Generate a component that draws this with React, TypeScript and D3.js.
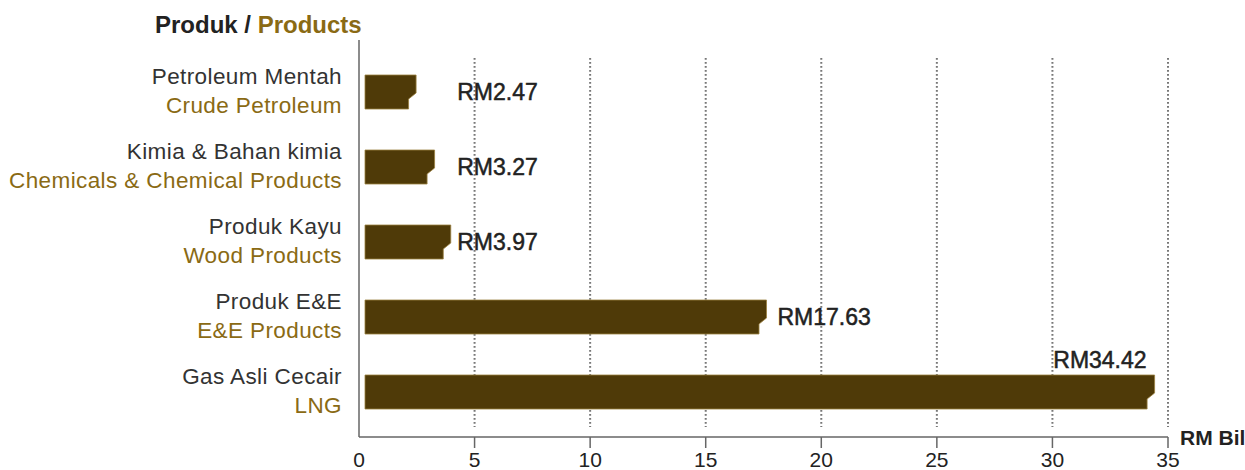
import React from "react";
import * as d3 from "d3";

const malayLabels = ["Petroleum Mentah", "Kimia & Bahan kimia", "Produk Kayu", "Produk E&E", "Gas Asli Cecair"];
const englishLabels = ["Crude Petroleum", "Chemicals & Chemical Products", "Wood Products", "E&E Products", "LNG"];
const values = [2.47, 3.27, 3.97, 17.63, 34.42];
const valueLabels = ["RM2.47", "RM3.27", "RM3.97", "RM17.63", "RM34.42"];
const xTicks = [0, 5, 10, 15, 20, 25, 30, 35];

const W = 1245;
const H = 470;
const FONT = "'Liberation Sans', Arial, Helvetica, sans-serif";
const DARK = "#333333";
const GOLD = "#8a6a14";
const BAR = "#4f3a08";

export default function App() {
  const x = d3.scaleLinear().domain([0, 35]).range([359, 1168]);
  const y = d3.scalePoint<number>().domain(d3.range(values.length)).range([92, 392]);
  const barH = 34;
  const axisY = 437;
  const x0 = x(0);

  const barPath = (v: number, cy: number) => {
    const left = x0 + 6;
    const right = x(v);
    const top = cy - barH / 2;
    const bot = cy + barH / 2;
    const notchY = top + barH * 0.53;
    const inset = 7.5;
    const p = d3.path();
    p.moveTo(left, top);
    p.lineTo(right, top);
    p.lineTo(right, notchY);
    p.lineTo(right - inset, notchY + 6);
    p.lineTo(right - inset, bot);
    p.lineTo(left, bot);
    p.closePath();
    return p.toString();
  };

  const maxIdx = values.indexOf(d3.max(values) as number);

  return (
    <svg
      width={W}
      height={H}
      style={{ position: "absolute", left: 0, top: 0, display: "block", background: "#fff" }}
      fontFamily={FONT}
    >
      {/* title */}
      <text x={155} y={33} fontSize={24} fontWeight="bold" fill="#222">
        Produk / <tspan fill={GOLD}>Products</tspan>
      </text>

      {/* grid lines */}
      {xTicks.filter((t) => t > 0).map((t) => (
        <line
          key={"g" + t}
          x1={x(t)}
          x2={x(t)}
          y1={58}
          y2={427}
          stroke="#777"
          strokeWidth={2}
          strokeDasharray="1.8,2.2"
        />
      ))}

      {/* axes */}
      <line x1={x0} x2={x0} y1={40} y2={axisY} stroke="#666" strokeWidth={1.5} />
      <line x1={x0} x2={x(35)} y1={axisY} y2={axisY} stroke="#666" strokeWidth={1.5} />
      {xTicks.map((t) => (
        <g key={"t" + t}>
          {t > 0 && <line x1={x(t)} x2={x(t)} y1={axisY} y2={axisY + 11} stroke="#666" strokeWidth={1.5} />}
          <text x={x(t)} y={467} fontSize={21} textAnchor="middle" fill="#222">
            {t}
          </text>
        </g>
      ))}
      <text x={1180} y={445} fontSize={21} fontWeight="bold" fill="#222">
        RM Bil
      </text>

      {/* bars */}
      {values.map((v, i) => {
        const cy = y(i) as number;
        return (
          <g key={"b" + i}>
            <path d={barPath(v, cy)} fill={BAR} stroke="#9a8040" strokeWidth={0.8} />
            <text x={342} y={cy - 8} fontSize={22.5} letterSpacing={0.4} textAnchor="end" fill={DARK}>
              {malayLabels[i]}
            </text>
            <text x={342} y={cy + 21} fontSize={22.5} letterSpacing={0.4} textAnchor="end" fill={GOLD}>
              {englishLabels[i]}
            </text>
            {i === maxIdx ? (
              <text
                x={x(v) - 8}
                y={cy - barH / 2 - 7}
                fontSize={23}
                textAnchor="end"
                fill="#222"
                stroke="#222"
                strokeWidth={0.5}
              >
                {valueLabels[i]}
              </text>
            ) : (
              <text
                x={v < 5 ? x(4.25) : x(v) + 11}
                y={cy + 8}
                fontSize={23}
                fill="#222"
                stroke="#222"
                strokeWidth={0.5}
              >
                {valueLabels[i]}
              </text>
            )}
          </g>
        );
      })}
    </svg>
  );
}
